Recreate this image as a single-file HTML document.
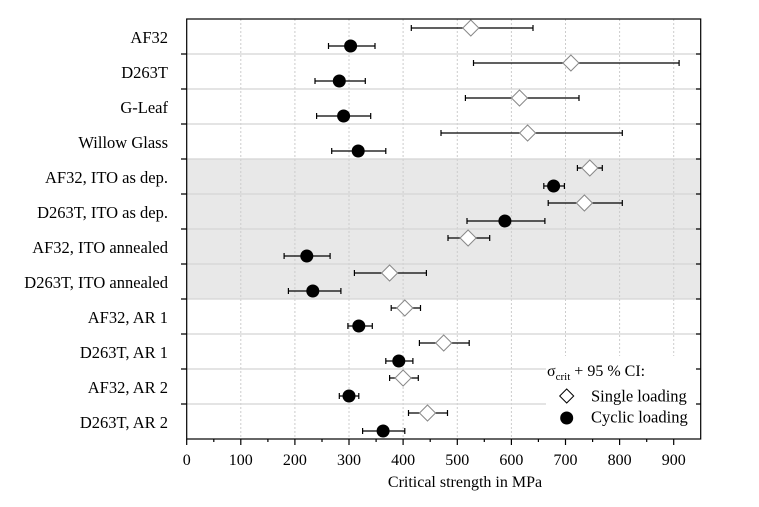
<!DOCTYPE html>
<html><head><meta charset="utf-8"><style>body{margin:0;background:#fff}svg{display:block}text{font-family:"Liberation Serif",serif;fill:#000}</style></head><body>
<svg width="759" height="507" viewBox="0 0 759 507" xmlns="http://www.w3.org/2000/svg">
<rect x="186.7" y="159" width="514" height="140" fill="#e8e8e8"/>
<g stroke="#ccc" stroke-width="1" stroke-dasharray="2,2">
<line x1="240.8" y1="19" x2="240.8" y2="439"/><line x1="294.9" y1="19" x2="294.9" y2="439"/><line x1="349" y1="19" x2="349" y2="439"/><line x1="403.1" y1="19" x2="403.1" y2="439"/><line x1="457.3" y1="19" x2="457.3" y2="439"/><line x1="511.4" y1="19" x2="511.4" y2="439"/><line x1="565.5" y1="19" x2="565.5" y2="439"/><line x1="619.6" y1="19" x2="619.6" y2="439"/><line x1="673.7" y1="19" x2="673.7" y2="439"/>
</g>
<g stroke="#d4d4d4" stroke-width="1.2">
<line x1="186.7" y1="54" x2="700.7" y2="54"/><line x1="186.7" y1="89" x2="700.7" y2="89"/><line x1="186.7" y1="124" x2="700.7" y2="124"/><line x1="186.7" y1="159" x2="700.7" y2="159"/><line x1="186.7" y1="194" x2="700.7" y2="194"/><line x1="186.7" y1="229" x2="700.7" y2="229"/><line x1="186.7" y1="264" x2="700.7" y2="264"/><line x1="186.7" y1="299" x2="700.7" y2="299"/><line x1="186.7" y1="334" x2="700.7" y2="334"/><line x1="186.7" y1="369" x2="700.7" y2="369"/><line x1="186.7" y1="404" x2="700.7" y2="404"/>
</g>
<g stroke="#000" stroke-width="1.2">
<path d="M411.3 28H533M411.3 25V31M533 25V31"/>
<path d="M473.5 63H679.1M473.5 60V66M679.1 60V66"/>
<path d="M465.4 98H579M465.4 95V101M579 95V101"/>
<path d="M441 133H622.3M441 130V136M622.3 130V136"/>
<path d="M577.4 168H602.3M577.4 165V171M602.3 165V171"/>
<path d="M548.2 203H622.3M548.2 200V206M622.3 200V206"/>
<path d="M448 238H489.7M448 235V241M489.7 235V241"/>
<path d="M354.4 273H426.4M354.4 270V276M426.4 270V276"/>
<path d="M391.2 308H420.5M391.2 305V311M420.5 305V311"/>
<path d="M419.4 343H469.2M419.4 340V346M469.2 340V346"/>
<path d="M389.6 378H418.3M389.6 375V381M418.3 375V381"/>
<path d="M408.5 413H447.5M408.5 410V416M447.5 410V416"/>
<path d="M328.5 46H375M328.5 43V49M375 43V49"/>
<path d="M315 81H365.3M315 78V84M365.3 78V84"/>
<path d="M316.6 116H370.7M316.6 113V119M370.7 113V119"/>
<path d="M331.7 151H385.8M331.7 148V154M385.8 148V154"/>
<path d="M543.8 186H564.4M543.8 183V189M564.4 183V189"/>
<path d="M467 221H544.9M467 218V224M544.9 218V224"/>
<path d="M284.1 256H330.1M284.1 253V259M330.1 253V259"/>
<path d="M288.4 291H340.9M288.4 288V294M340.9 288V294"/>
<path d="M347.9 326H372.3M347.9 323V329M372.3 323V329"/>
<path d="M385.8 361H412.9M385.8 358V364M412.9 358V364"/>
<path d="M339.3 396H358.8M339.3 393V399M358.8 393V399"/>
<path d="M362.6 431H404.8M362.6 428V434M404.8 428V434"/>
</g>
<g fill="#fff" stroke="#888" stroke-width="1">
<path d="M470.8 20l8 8-8 8-8-8z"/><path d="M570.9 55l8 8-8 8-8-8z"/><path d="M519.5 90l8 8-8 8-8-8z"/><path d="M527.6 125l8 8-8 8-8-8z"/><path d="M589.8 160l8 8-8 8-8-8z"/><path d="M584.4 195l8 8-8 8-8-8z"/><path d="M468.1 230l8 8-8 8-8-8z"/><path d="M389.6 265l8 8-8 8-8-8z"/><path d="M404.8 300l8 8-8 8-8-8z"/><path d="M443.7 335l8 8-8 8-8-8z"/><path d="M403.1 370l8 8-8 8-8-8z"/><path d="M427.5 405l8 8-8 8-8-8z"/>
</g>
<g fill="#000">
<circle cx="350.6" cy="46" r="6.5"/><circle cx="339.3" cy="81" r="6.5"/><circle cx="343.6" cy="116" r="6.5"/><circle cx="358.2" cy="151" r="6.5"/><circle cx="553.6" cy="186" r="6.5"/><circle cx="504.9" cy="221" r="6.5"/><circle cx="306.8" cy="256" r="6.5"/><circle cx="312.8" cy="291" r="6.5"/><circle cx="358.8" cy="326" r="6.5"/><circle cx="398.8" cy="361" r="6.5"/><circle cx="349" cy="396" r="6.5"/><circle cx="383.1" cy="431" r="6.5"/>
</g>
<rect x="546" y="356" width="154" height="82" fill="#fff"/>
<text x="547" y="376" font-size="16">σ<tspan font-size="11" dy="4">crit</tspan><tspan dy="-4"> + 95 % CI:</tspan></text>
<path d="M566.7 389l7 7-7 7-7-7z" fill="#fff" stroke="#000" stroke-width="1"/>
<text x="591" y="401.5" font-size="16.5">Single loading</text>
<circle cx="566.7" cy="418" r="6.5" fill="#000"/>
<text x="591" y="422.5" font-size="16.5">Cyclic loading</text>
<rect x="186.7" y="19" width="514" height="420" fill="none" stroke="#000" stroke-width="1.2"/>
<g stroke="#000" stroke-width="1.2">
<path d="M181 54H186.7M181 89H186.7M181 124H186.7M181 159H186.7M181 194H186.7M181 229H186.7M181 264H186.7M181 299H186.7M181 334H186.7M181 369H186.7M181 404H186.7M700.7 54H696M700.7 89H696M700.7 124H696M700.7 159H696M700.7 194H696M700.7 229H696M700.7 264H696M700.7 299H696M700.7 334H696M700.7 369H696M700.7 404H696"/>
<path d="M186.7 439v6M240.8 439v6M294.9 439v6M349 439v6M403.1 439v6M457.3 439v6M511.4 439v6M565.5 439v6M619.6 439v6M673.7 439v6M213.8 439v3M267.9 439v3M322 439v3M376.1 439v3M430.2 439v3M484.3 439v3M538.4 439v3M592.6 439v3M646.7 439v3"/>
</g>
<g font-size="16.5" text-anchor="end">
<text x="168" y="43">AF32</text><text x="168" y="78">D263T</text><text x="168" y="113">G-Leaf</text><text x="168" y="148">Willow Glass</text><text x="168" y="183">AF32, ITO as dep.</text><text x="168" y="218">D263T, ITO as dep.</text><text x="168" y="253">AF32, ITO annealed</text><text x="168" y="288">D263T, ITO annealed</text><text x="168" y="323">AF32, AR 1</text><text x="168" y="358">D263T, AR 1</text><text x="168" y="393">AF32, AR 2</text><text x="168" y="428">D263T, AR 2</text>
</g>
<g font-size="16" text-anchor="middle">
<text x="186.7" y="465">0</text><text x="240.8" y="465">100</text><text x="294.9" y="465">200</text><text x="349" y="465">300</text><text x="403.1" y="465">400</text><text x="457.3" y="465">500</text><text x="511.4" y="465">600</text><text x="565.5" y="465">700</text><text x="619.6" y="465">800</text><text x="673.7" y="465">900</text>
<text x="465" y="487">Critical strength in MPa</text>
</g>
</svg>
</body></html>
